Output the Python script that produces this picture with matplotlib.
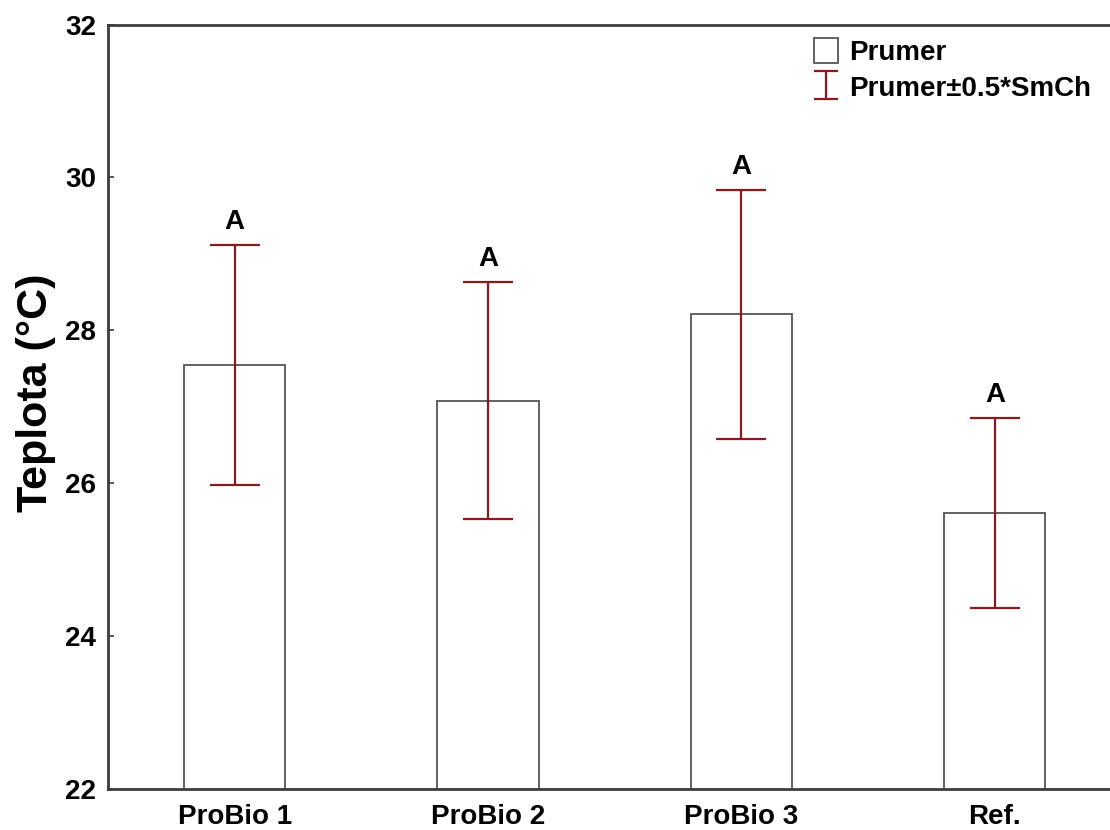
import matplotlib
matplotlib.use("Agg")
import matplotlib.pyplot as plt
from matplotlib.patches import Patch
from matplotlib.lines import Line2D
from matplotlib.container import ErrorbarContainer
from matplotlib.legend_handler import HandlerErrorbar
import numpy as np

plt.rcParams['font.family'] = ['Liberation Sans', 'DejaVu Sans']
plt.rcParams['font.weight'] = 'bold'

categories = ["ProBio 1", "ProBio 2", "ProBio 3", "Ref."]
means = [27.54, 27.08, 28.21, 25.61]
half_err = [1.57, 1.55, 1.63, 1.24]
letters = ["A", "A", "A", "A"]
yticks = [22, 24, 26, 28, 30, 32]

bar_edge = "#555555"
err_color = "#8b1a1f"
spine_color = "#3c3c3c"

fig = plt.figure(figsize=(11.10, 8.30), dpi=100)
W, H = 1110.0, 830.0
left, right, top, bottom = 108, 1121.5, 24.5, 789
ax = fig.add_axes([left / W, 1 - bottom / H, (right - left) / W, (bottom - top) / H])

x = np.arange(len(categories))
bars = ax.bar(x, means, width=0.40, color="white", edgecolor=bar_edge,
              linewidth=1.3, label="Prumer", zorder=2)
eb = ax.errorbar(x, means, yerr=half_err, fmt="none", ecolor=err_color,
                 elinewidth=1.6, capsize=18, capthick=1.6,
                 label="Prumer\u00b10.5*SmCh", zorder=3)

for xi, m, e, t in zip(x, means, half_err, letters):
    ax.annotate(t, (xi, m + e), xytext=(0, 11.5), textcoords="offset points",
                ha="center", va="baseline", fontsize=20, fontweight="bold")

ax.set_xlim(-0.5, 3.5)
ax.set_ylim(22, 32)
ax.set_yticks(yticks)
ax.set_yticklabels([str(v) for v in yticks], fontsize=20, fontweight="bold")
ax.set_xticks(x)
ax.set_xticklabels(categories, fontsize=20, fontweight="bold")
ax.tick_params(axis="x", length=0, pad=11)
ax.tick_params(axis="y", direction="in", length=4, width=1.2, color=spine_color, pad=8.5)

for side in ["left", "top", "bottom"]:
    ax.spines[side].set_color(spine_color)
    ax.spines[side].set_linewidth(2.0)
ax.spines["right"].set_visible(False)

ax.set_ylabel("Teplota (\u00b0C)", fontsize=31, fontweight="bold")
ax.yaxis.set_label_coords((56 - left) / (right - left), 0.518)


def small_caps(legend_handle, orig_handle):
    legend_handle.update_from(orig_handle)
    if isinstance(legend_handle, Line2D):
        legend_handle.set_markersize(17)


handles = [Patch(facecolor="white", edgecolor=bar_edge, linewidth=1.3), eb]
leg = ax.legend(handles, ["Prumer", "Prumer\u00b10.5*SmCh"],
                loc="upper left", bbox_to_anchor=(814 / W, 1 - 38 / H),
                bbox_transform=fig.transFigure, frameon=False,
                borderpad=0, borderaxespad=0, handlelength=0.87,
                handleheight=1.0, handletextpad=0.4, labelspacing=0.3,
                prop={"size": 20, "weight": "bold"},
                handler_map={ErrorbarContainer: HandlerErrorbar(update_func=small_caps)})

fig.savefig("out.png", dpi=100, facecolor="white")
